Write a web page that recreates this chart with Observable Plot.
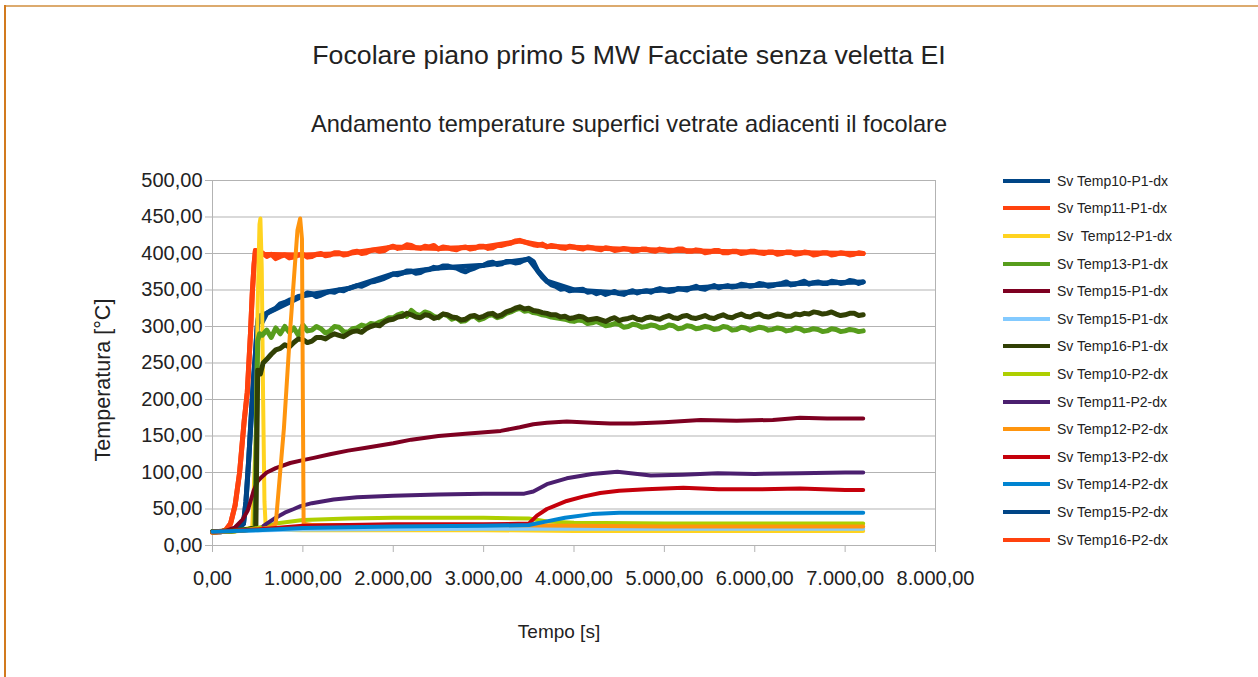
<!DOCTYPE html>
<html>
<head>
<meta charset="utf-8">
<script src="https://cdn.jsdelivr.net/npm/d3@7"></script>
<script src="https://cdn.jsdelivr.net/npm/@observablehq/plot@0.6"></script>
<style>
  html, body { margin: 0; padding: 0; background: #fff; }
  #page { position: relative; width: 1258px; height: 677px; overflow: hidden; background: #fff;
          font-family: "Liberation Sans", Arial, sans-serif; color: #222; }
  #bordTop { position: absolute; left: 4px; top: 5px; width: 1254px; height: 2px; background: #dcaa6e; }
  #bordLeft { position: absolute; left: 4px; top: 5px; width: 2px; height: 672px; background: #d27a1e; }
  #title { position: absolute; left: 0; width: 1258px; top: 40px; text-align: center; font-size: 26.7px; }
  #subtitle { position: absolute; left: 0; width: 1258px; top: 111px; text-align: center; font-size: 23.6px; }
  #chart { position: absolute; left: 0; top: 0; }
  #legend { position: absolute; left: 1003px; top: 167px; }
  .item { height: 27.6px; display: flex; align-items: center; font-size: 14px; white-space: pre; }
  .sw { width: 47px; height: 4px; margin-right: 7px; }
</style>
</head>
<body>
<div id="page">
  <div id="bordTop"></div>
  <div id="bordLeft"></div>
  <div id="title">Focolare piano primo 5 MW Facciate senza veletta EI</div>
  <div id="subtitle">Andamento temperature superfici vetrate adiacenti il focolare</div>
  <div id="chart"></div>
  <div id="legend"></div>
</div>
<script>
// ---------- DATA ----------
const xTicks = [0, 1000, 2000, 3000, 4000, 5000, 6000, 7000, 8000];
const yTicks = [0, 50, 100, 150, 200, 250, 300, 350, 400, 450, 500];
const xLabel = "Tempo [s]";
const yLabel = "Temperatura [°C]";

const seriesNames = [
  "Sv Temp10-P1-dx", "Sv Temp11-P1-dx", "Sv  Temp12-P1-dx", "Sv Temp13-P1-dx",
  "Sv Temp15-P1-dx", "Sv Temp15-P1-dx", "Sv Temp16-P1-dx", "Sv Temp10-P2-dx",
  "Sv Temp11-P2-dx", "Sv Temp12-P2-dx", "Sv Temp13-P2-dx", "Sv Temp14-P2-dx",
  "Sv Temp15-P2-dx", "Sv Temp16-P2-dx"
];
const seriesColors = [
  "#004586", "#ff420e", "#ffd320", "#579d1c", "#7e0021", "#83caff", "#314004",
  "#aecf00", "#4b1f6f", "#ff950e", "#c5000b", "#0084d1", "#004586", "#ff420e"
];
const noisySeries = [true, true, false, true, false, false, true, false, false, false, false, false, true, true];
// order in which the lines are painted (hidden duplicates first)
const drawOrder = [12, 13, 0, 1, 2, 3, 4, 5, 6, 7, 8, 9, 10, 11];

// [time s, temperature °C]
const temp10P1 = [[0,19],[100,19],[150,20],[250,22],[300,25],[343,30],[370,60],[400,116],[430,180],[455,230],[475,262],[495,300],[510,314],
  [550,306],[600,318],[650,322],[700,325],[750,331],[800,333],[850,336],[900,338],[950,341],[1000,342],[1050,346],[1100,345],[1150,341],[1200,343],
  [1250,346],[1300,348],[1350,347],[1400,350],[1450,349],[1500,352],[1550,354],[1600,356],[1650,355],[1700,358],[1750,361],
  [1800,362],[1850,364],[1900,366],[1950,369],[2000,372],[2050,371],[2100,373],[2150,376],[2200,376],[2250,373],[2300,374],[2350,377],[2400,378],
  [2450,381],[2500,380],[2550,383],[2600,383],[2650,381],[2700,380],[2750,377],[2800,375],[2850,378],[2900,380],[2950,383],
  [3000,384],[3050,387],[3100,388],[3150,385],[3200,386],[3250,389],[3300,389],[3350,387],[3400,388],[3450,391],[3500,393],[3550,389],[3600,376],[3650,368],[3700,362],[3750,357],[3800,355],[3850,351],[3900,352],[3950,349],[4000,350],
  [4100,351],[4150,347],[4200,348],[4250,345],[4300,347],[4350,344],[4400,346],[4450,348],[4500,345],[4550,344],[4600,347],[4650,349],[4700,346],[4750,348],[4800,349],[4850,347],[4900,350],[4950,352],[5000,350],[5050,348],[5100,349],[5150,352],[5200,351],
  [5250,350],[5300,353],[5350,355],[5400,352],[5450,351],[5500,354],[5550,356],[5600,353],[5650,355],[5700,356],[5750,354],[5800,355],[5850,358],[5900,357],[5950,355],[6000,356],[6050,359],[6100,358],[6150,355],[6200,356],[6250,358],[6300,359],[6350,361],[6400,357],
  [6450,358],[6500,360],[6550,362],[6600,358],[6650,360],[6700,361],[6750,359],[6800,359],[6850,362],[6900,361],[6950,359],[7000,360],[7050,363],[7100,362],[7150,359],[7200,361]];
const temp11P1 = [[0,18],[100,19],[150,22],[200,30],[250,55],[300,100],[350,170],[385,210],[420,290],[440,345],[460,385],[475,404],[490,402],
  [500,398],[550,401],[600,396],[650,399],[700,393],[750,396],[800,398],[850,394],[900,395],[950,398],[1000,399],[1050,395],[1100,396],[1150,399],[1200,400],[1250,397],[1300,398],[1350,401],[1400,401],[1450,398],[1500,399],[1550,402],[1600,403],[1650,400],[1700,401],
  [1750,404],[1800,405],[1850,403],[1900,404],[1950,408],[2000,410],[2050,407],[2100,408],[2150,412],[2200,411],[2250,408],[2300,407],[2350,410],[2400,409],[2450,411],[2500,406],[2550,409],[2600,408],[2650,406],[2700,405],[2750,408],[2800,409],[2850,406],[2900,407],[2950,410],
  [3000,410],[3050,407],[3100,408],[3150,411],[3200,411],[3250,413],[3300,414],[3350,417],[3400,418],[3450,416],[3500,414],[3550,412],[3600,411],[3650,413],[3700,409],[3750,411],[3800,410],[3850,408],[3900,407],[3950,410],[4000,409],[4050,407],[4100,406],
  [4150,409],[4200,408],[4250,406],[4300,405],[4350,408],[4400,407],[4450,404],[4500,405],[4550,407],[4600,406],[4650,403],[4700,404],[4750,406],[4800,406],[4850,404],[4900,403],[4950,406],[5000,405],[5050,403],[5100,404],[5150,406],[5200,406],[5250,403],[5300,403],
  [5350,405],[5400,404],[5450,401],[5500,402],[5550,404],[5600,404],[5650,401],[5700,401],[5750,403],[5800,403],[5850,400],[5900,401],[5950,403],[6000,403],[6050,401],[6100,400],[6150,402],[6200,402],[6250,399],[6300,400],[6350,402],[6400,402],[6450,399],[6500,400],
  [6550,402],[6600,401],[6650,398],[6700,399],[6750,401],[6800,401],[6850,398],[6900,399],[6950,401],[7000,400],[7050,398],[7100,399],[7150,401],[7200,400]];
const temp12P1 = [[0,18],[250,19],[440,25],[480,150],[500,330],[520,440],[530,448],[545,380],[560,200],[575,60],[590,22],
  [1000,21],[2000,21],[3000,21],[4000,20],[5000,20],[6000,20],[7200,20]];
const temp13P1 = [[0,19],[200,20],[400,22],[470,25],[500,280],[520,290],[550,288],[600,295],[650,285],[700,298],[750,290],[800,300],
  [850,292],[900,298],[950,288],[1000,302],[1050,294],[1100,295],[1150,300],[1200,297],[1250,291],[1300,294],[1350,300],[1400,299],[1450,293],[1500,292],[1550,297],[1600,298],[1650,302],[1700,300],[1750,304],[1800,303],
  [1850,306],[1900,308],[1950,312],[2000,312],[2050,316],[2100,318],[2150,314],[2200,322],[2250,317],[2300,315],[2350,320],[2400,318],[2450,314],[2500,312],[2550,317],[2600,315],[2650,310],[2700,312],[2750,307],[2800,308],[2850,313],[2900,314],[2950,309],[3000,311],
  [3050,315],[3100,316],[3150,312],[3200,314],[3250,318],[3300,320],[3350,323],[3400,325],[3450,321],[3500,322],[3550,319],[3600,318],[3650,316],[3700,315],[3750,313],[3800,312],[3850,311],[3900,310],[3950,308],[4000,307],[4050,309],[4100,308],[4150,304],[4200,305],
  [4250,307],[4300,304],[4350,301],[4400,302],[4450,304],[4500,303],[4550,299],[4600,300],[4650,303],[4700,302],[4750,299],[4800,300],[4850,302],[4900,301],[4950,298],[5000,299],[5050,302],[5100,301],[5150,297],[5200,298],[5250,301],[5300,300],[5350,297],[5400,298],
  [5450,300],[5500,299],[5550,296],[5600,297],[5650,300],[5700,299],[5750,295],[5800,296],[5850,299],[5900,298],[5950,295],[6000,297],[6050,299],[6100,298],[6150,295],[6200,296],[6250,298],[6300,297],[6350,294],[6400,295],[6450,298],[6500,297],[6550,294],[6600,295],
  [6650,297],[6700,296],[6750,293],[6800,294],[6850,297],[6900,296],[6950,293],[7000,294],[7050,296],[7100,295],[7150,293],[7200,294]];
const temp15P1 = [[0,19],[150,20],[250,25],[330,35],[390,48],[455,75],[500,88],[530,92],[600,100],[700,106],[860,113],[1000,117],[1120,120],
  [1300,125],[1500,130],[1700,134],[2000,140],[2200,145],[2500,150],[2800,153],[3190,157],[3400,162],[3550,166],[3700,168],[3920,170],
  [4200,168],[4400,167],[4660,167],[5000,169],[5400,172],[5800,171],[6200,172],[6500,175],[6800,174],[7200,174]];
const temp15P1b = [[0,19],[1000,22],[3000,23],[5000,23],[7200,23]];
const temp16P1 = [[0,19],[200,20],[400,22],[480,25],[500,240],[530,235],[560,250],[600,255],[650,262],[700,268],[750,270],[800,275],
  [850,272],[900,278],[950,283],[1000,282],[1050,278],[1100,280],[1150,285],[1200,285],[1250,283],[1300,287],[1350,290],[1400,288],[1450,286],[1500,290],[1550,293],[1600,294],[1650,292],[1700,297],[1750,300],[1800,302],[1850,301],[1900,306],[1950,309],[2000,310],
  [2050,313],[2100,314],[2150,318],[2200,316],[2250,313],[2300,312],[2350,316],[2400,315],[2450,311],[2500,313],[2550,317],[2600,316],[2650,313],[2700,312],[2750,309],[2800,310],[2850,314],[2900,315],[2950,312],[3000,314],[3050,317],[3100,318],[3150,314],[3200,316],
  [3250,320],[3300,322],[3350,325],[3400,327],[3450,324],[3500,325],[3550,322],[3600,321],[3650,319],[3700,318],[3750,316],[3800,316],[3850,313],[3900,314],[3950,311],[4000,312],[4050,314],[4100,313],[4150,309],[4200,310],[4250,311],[4300,309],[4350,307],[4400,310],
  [4450,312],[4500,308],[4550,310],[4600,311],[4650,313],[4700,310],[4750,309],[4800,312],[4850,313],[4900,311],[4950,310],[5000,313],[5050,315],[5100,312],[5150,311],[5200,314],[5250,315],[5300,312],[5350,311],[5400,313],[5450,315],[5500,312],[5550,311],[5600,314],
  [5650,316],[5700,313],[5750,312],[5800,315],[5850,317],[5900,314],[5950,313],[6000,316],[6050,317],[6100,314],[6150,313],[6200,315],[6250,317],[6300,316],[6350,314],[6400,314],[6450,317],[6500,316],[6550,318],[6600,317],[6650,320],[6700,319],[6750,317],[6800,318],
  [6850,320],[6900,317],[6950,315],[7000,316],[7050,318],[7100,318],[7150,315],[7200,316]];
const temp10P2 = [[0,19],[300,20],[500,24],[700,30],[1000,35],[1500,37],[2000,38],[2500,38],[3000,38],[3500,37],[3700,33],[4000,31],
  [5000,30],[6000,30],[7200,30]];
const temp11P2 = [[565,27],[600,30],[700,38],[800,45],[900,50],[975,54],[1100,58],[1340,63],[1600,66],[2000,68],[2500,70],[3000,71],
  [3450,71],[3550,74],[3700,84],[3920,92],[4200,98],[4480,101],[4850,96],[5200,97],[5590,99],[6000,98],[6500,99],[7000,100],[7200,100]];
const temp12P2 = [[0,18],[500,22],[650,25],[700,30],[790,160],[860,296],[940,432],[970,448],[990,420],[1000,200],[1008,30],
  [1100,28],[2000,28],[3000,28],[4000,27],[5000,26],[6000,26],[7200,26]];
const temp13P2 = [[0,19],[500,22],[1000,27],[2000,29],[3000,29],[3500,30],[3590,41],[3700,50],[3920,61],[4100,67],[4290,72],[4500,75],
  [4800,77],[5210,79],[5600,77],[6000,77],[6500,78],[7000,76],[7200,76]];
const temp14P2 = [[0,19],[500,21],[1000,24],[2000,26],[3000,27],[3500,28],[3700,33],[3900,38],[4200,43],[4500,45],[5000,45],[6000,45],[7200,45]];
const temp15P2 = [[0,19],[100,19],[150,20],[250,22],[300,25],[343,30],[370,60],[400,116],[430,180],[455,230],[475,262],[495,300],[510,314],
  [600,318],[1000,342],[1500,352],[2000,372],[2500,380],[3000,384],[3500,392],[3600,376],[3700,362],[4000,350],[4500,346],[5000,350],
  [5500,354],[6000,356],[6500,359],[7200,361]];
const temp16P2 = [[0,18],[100,19],[150,22],[200,30],[250,55],[300,100],[350,170],[385,210],[420,290],[440,345],[460,385],[475,404],
  [500,399],[1000,398],[1500,400],[2000,409],[2500,407],[3000,409],[3400,417],[3700,410],[4500,406],[5500,403],[6500,401],[7200,400]];

const seriesData = [temp10P1, temp11P1, temp12P1, temp13P1, temp15P1, temp15P1b, temp16P1,
  temp10P2, temp11P2, temp12P2, temp13P2, temp14P2, temp15P2, temp16P2];

// ---------- CHART ----------
const it = d3.formatLocale({decimal: ",", thousands: ".", grouping: [3], currency: ["€", ""]});
const fmt = it.format(",.2f");
const font = "'Liberation Sans', Arial, sans-serif";

const lineMarks = drawOrder.map(i =>
  Plot.line(seriesData[i], {x: d => d[0], y: d => d[1], stroke: seriesColors[i], strokeWidth: noisySeries[i] ? 5 : 4,
    strokeLinejoin: "round", strokeLinecap: "round"}));

const chart = Plot.plot({
  width: 1258, height: 677,
  marginLeft: 212, marginRight: 323, marginTop: 180, marginBottom: 132,
  style: {fontFamily: font, fontSize: "20px", color: "#222", background: "transparent", overflow: "visible"},
  x: {domain: [0, 8000]},
  y: {domain: [0, 500]},
  marks: [
    Plot.gridY(yTicks, {stroke: "#b3b3b3", strokeOpacity: 1, strokeWidth: 1}),
    Plot.ruleX([0, 8000], {stroke: "#b3b3b3", strokeWidth: 1}),
    Plot.axisY(yTicks, {tickFormat: fmt, tickSize: 7, tickPadding: 3, stroke: "#b3b3b3", fill: "#222",
      fontSize: 20, label: null}),
    Plot.axisX(xTicks, {tickFormat: fmt, tickSize: 7, tickPadding: 18, stroke: "#b3b3b3", fill: "#222",
      fontSize: 20, label: null}),
    Plot.text([yLabel], {frameAnchor: "left", rotate: -90, dx: -109, dy: 17, fill: "#222", fontSize: 21.5,
      textAnchor: "middle", lineAnchor: "middle"}),
    Plot.text([xLabel], {frameAnchor: "bottom", dx: -15, dy: 86, fill: "#222", fontSize: 19,
      textAnchor: "middle", lineAnchor: "middle"}),
    ...lineMarks
  ]
});
document.getElementById("chart").appendChild(chart);

// legend
const legend = document.getElementById("legend");
seriesNames.forEach((n, i) => {
  const row = document.createElement("div");
  row.className = "item";
  const sw = document.createElement("div");
  sw.className = "sw";
  sw.style.background = seriesColors[i];
  const tx = document.createElement("span");
  tx.textContent = n;
  row.appendChild(sw); row.appendChild(tx);
  legend.appendChild(row);
});
</script>
</body>
</html>
